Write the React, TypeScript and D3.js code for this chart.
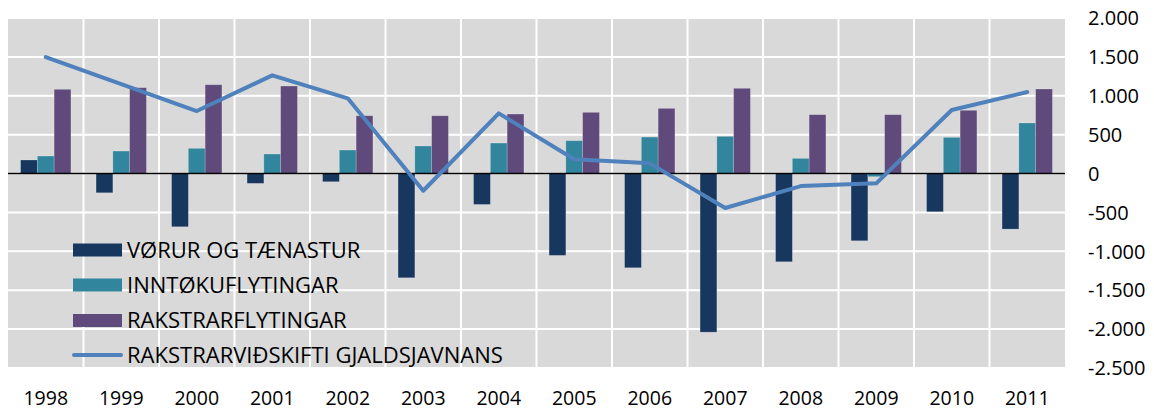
import React from "react";
import * as d3 from "d3";

const years = ["1998","1999","2000","2001","2002","2003","2004","2005","2006","2007","2008","2009","2010","2011"];
const vorur = [174,-247,-684,-126,-105,-1340,-397,-1052,-1211,-2039,-1134,-864,-491,-714];
const inntoku = [225,289,324,251,302,354,392,422,469,478,195,-40,465,650];
const rakstrar = [1083,1104,1142,1125,743,743,765,787,838,1096,757,757,813,1087];
const gjaldsjavn = [1498,1150,804,1263,967,-221,774,183,131,-443,-161,-126,817,1048];
const yTicks = [2000,1500,1000,500,0,-500,-1000,-1500,-2000,-2500];
const seriesNames = ["VØRUR OG TÆNASTUR","INNTØKUFLYTINGAR","RAKSTRARFLYTINGAR","RAKSTRARVIÐSKIFTI GJALDSJAVNANS"];
const colors = ["#17375E","#31859C","#604A7B","#4F81BD"];

const W = 1154, H = 411;
const L = 8, R = 1065, T = 18, B = 368;
const font = "'Open Sans', sans-serif";

const fmt = (v: number) => {
  const s = Math.abs(v).toString().replace(/\B(?=(\d{3})+(?!\d))/g, ".");
  return (v < 0 ? "-" : "") + s;
};

export default function App() {
  const x = d3.scaleBand<string>().domain(years).range([L, R]).paddingInner(0).paddingOuter(0);
  const y = d3.scaleLinear().domain([-2500, 2000]).range([B, T]);
  const bw = x.bandwidth() / 4.5;
  const bars = [vorur, inntoku, rakstrar];
  const line = d3.line<number>()
    .x((_, i) => (x(years[i]) as number) + x.bandwidth() / 2)
    .y((v) => y(v));
  const legendY = [250, 285, 320.5, 355];
  return (
    <svg width={W} height={H} style={{ position: "absolute", left: 0, top: 0 }} fontFamily={font}>
      <rect x={L} y={T} width={R - L} height={B - T} fill="#D9D9D9" />
      {yTicks.map((t) => (
        <line key={"h" + t} x1={L} x2={R} y1={y(t)} y2={y(t)} stroke="#fff" strokeWidth={2} />
      ))}
      {years.slice(1).map((yr) => (
        <line key={"v" + yr} x1={x(yr)} x2={x(yr)} y1={T} y2={B} stroke="#fff" strokeWidth={2} />
      ))}
      {bars.map((s, si) =>
        s.map((v, i) => {
          const x0 = (x(years[i]) as number) + x.bandwidth() / 2 - 1.5 * bw + si * bw;
          const y0 = y(Math.max(0, v));
          const h = Math.abs(y(v) - y(0));
          return (
            <rect key={si + "-" + i} x={x0} y={y0} width={bw} height={h} fill={colors[si]}
              stroke="#ffffff" strokeOpacity={0.25} strokeWidth={0.75} />
          );
        })
      )}
      <line x1={L} x2={R} y1={y(0)} y2={y(0)} stroke="#000" strokeWidth={1.5} />
      <path d={line(gjaldsjavn) || ""} fill="none" stroke={colors[3]} strokeWidth={4} strokeLinejoin="round" strokeLinecap="round" />
      {seriesNames.map((n, i) => (
        <g key={n}>
          {i < 3 ? (
            <rect x={73} y={legendY[i] - 6.5} width={49} height={13} fill={colors[i]} />
          ) : (
            <line x1={74} x2={121} y1={legendY[i]} y2={legendY[i]} stroke={colors[3]} strokeWidth={4} strokeLinecap="round" />
          )}
          <text x={127} y={legendY[i]} dy="0.36em" fontSize={22} fill="#000">{n}</text>
        </g>
      ))}
      {yTicks.map((t) => (
        <text key={"yl" + t} x={1088} y={y(t)} dy="0.36em" fontSize={20} fill="#000">{fmt(t)}</text>
      ))}
      {years.map((yr) => (
        <text key={"xl" + yr} x={(x(yr) as number) + x.bandwidth() / 2} y={404.5} textAnchor="middle" fontSize={19.5} fill="#000">{yr}</text>
      ))}
    </svg>
  );
}
